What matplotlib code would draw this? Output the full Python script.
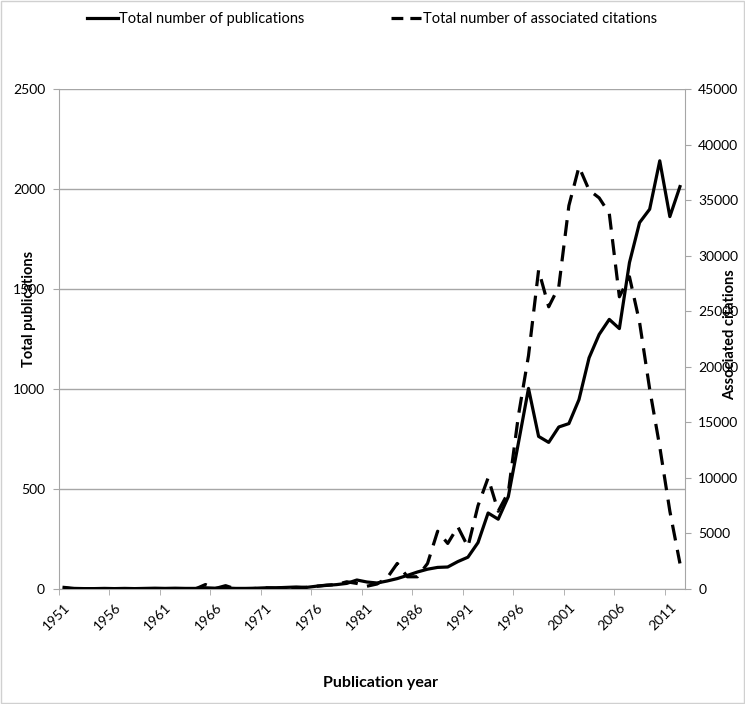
import matplotlib
matplotlib.use('Agg')
import matplotlib.pyplot as plt
import numpy as np
from matplotlib.patches import Rectangle
from matplotlib.lines import Line2D

years = list(range(1951, 2013))
publications = [8, 3, 2, 2, 3, 2, 3, 2, 3, 4,
                3, 4, 3, 3, 6, 4, 5, 3, 3, 4,
                6, 6, 8, 10, 8, 14, 18, 22, 28, 45,
                35, 30, 40, 52, 68, 85, 99, 108, 110, 137,
                159, 232, 380, 349, 462, 730, 1003, 763, 733, 810,
                827, 947, 1156, 1273, 1348, 1302, 1632, 1832, 1899, 2141,
                1862, 2012]
citations = [100, 0, 0, 0, 0, 0, 0, 0, 0, 0,
             0, 0, 0, 0, 400, 50, 300, 0, 0, 50,
             100, 80, 150, 100, 150, 250, 350, 400, 650, 500,
             250, 450, 1000, 2300, 1100, 1100, 2300, 5200, 4100, 5600,
             3800, 7500, 10000, 7000, 8700, 15600, 21000, 28700, 25400, 27200,
             34500, 38000, 35900, 35200, 33800, 26300, 28100, 24000, 18000, 12800,
             7000, 2300]
legend_labels = ['Total number of publications', 'Total number of associated citations']

plt.rcParams['font.family'] = ['Lato', 'DejaVu Sans']

W, H = 745, 704
fig = plt.figure(figsize=(W / 100, H / 100), dpi=100)
ax = fig.add_axes([59 / W, 1 - 589 / H, 626 / W, 500 / H])
ax2 = ax.twinx()

gray = '#a6a6a6'
dash = (0, (5, 3))
x = np.arange(len(years))
ax.plot(x, publications, color='black', lw=2.3, zorder=3)
ax2.plot(x, citations, color='black', lw=2.3, linestyle=dash, zorder=3)

ax.set_xlim(-0.5, len(years) - 0.5)
ax.set_ylim(0, 2500)
ax2.set_ylim(0, 45000)
ax.set_yticks(range(0, 2501, 500))
ax2.set_yticks(range(0, 45001, 5000))
ax.yaxis.grid(True, color=gray, lw=1)
ax.set_axisbelow(True)

ax.set_xticks(x[::5])
ax.set_xticklabels([str(y) for y in years[::5]], rotation=45, ha='right',
                   rotation_mode='anchor', fontsize=10)
ax.set_xticks(np.arange(-0.5, len(years) - 0.5, 5), minor=True)
ax.tick_params(axis='x', which='major', length=0, pad=9)
ax.tick_params(axis='x', which='minor', length=4, color=gray, direction='out')
ax.tick_params(axis='y', length=4, color=gray, labelsize=10, pad=6)
ax2.tick_params(axis='y', length=4, color=gray, labelsize=10, pad=5.5)

ax.spines['top'].set_visible(False)
ax.spines['right'].set_visible(False)
for s in ['top', 'left', 'bottom']:
    ax2.spines[s].set_visible(False)
for s in ['left', 'bottom']:
    ax.spines[s].set_color(gray)
ax2.spines['right'].set_color(gray)

fig.text(29 / W, 1 - 309 / H, 'Total publications', rotation=90, ha='center', va='center',
         fontsize=10.5, fontweight='bold')
fig.text(730 / W, 1 - 335 / H, 'Associated citations', rotation=90, ha='center', va='center',
         fontsize=10.5, fontweight='bold')
fig.text(380 / W, 1 - 683 / H, 'Publication year', ha='center', va='center',
         fontsize=11.5, fontweight='bold')

handles = [Line2D([], [], color='black', lw=2.3),
           Line2D([], [], color='black', lw=2.3, linestyle=(0, (3.7, 2.2)))]
fig.legend(handles, legend_labels, loc='center', bbox_to_anchor=(372 / W, 1 - 19 / H),
           ncol=2, frameon=False, fontsize=10.5, handlelength=2.1, handletextpad=0.1,
           columnspacing=5.9)

fig.patches.append(Rectangle((0.002, 0.002), 0.996, 0.996, transform=fig.transFigure,
                             fill=False, edgecolor='#d0d0d0', lw=1))

fig.savefig('out.png', dpi=100)
